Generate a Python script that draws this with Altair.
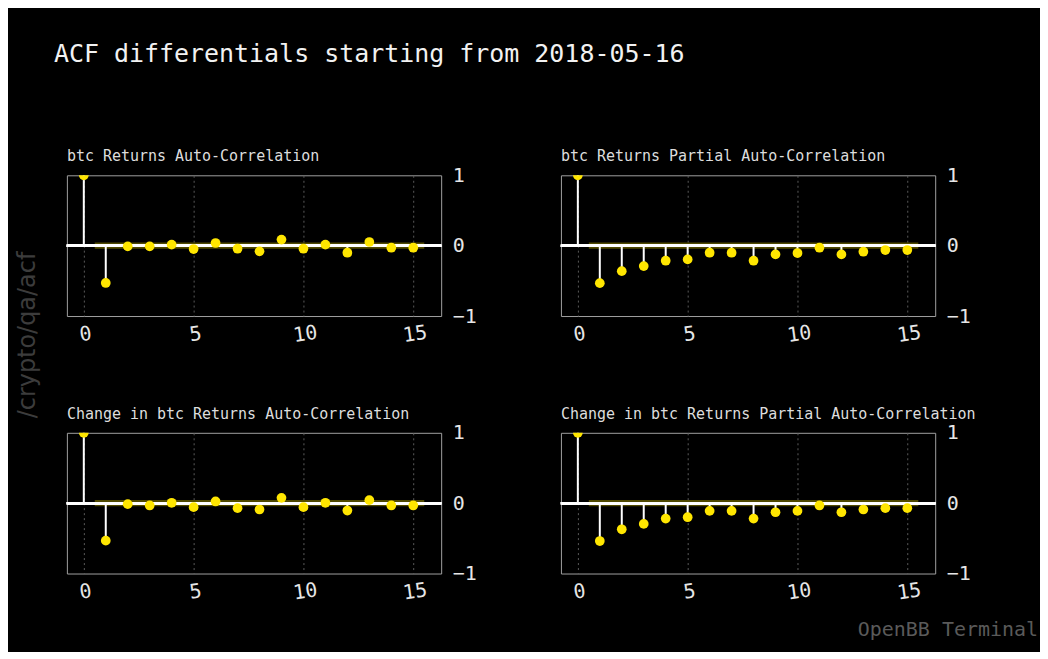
import altair as alt
import pandas as pd

# ---- data ----
lags = list(range(16))
acf_returns = [1.0, -0.53, -0.01, -0.01, 0.014, -0.048, 0.038, -0.043, -0.081, 0.086,
               -0.043, 0.014, -0.10, 0.052, -0.029, -0.029]
pacf_returns = [1.0, -0.533, -0.362, -0.29, -0.214, -0.195, -0.10, -0.10, -0.214, -0.124,
                -0.105, -0.029, -0.124, -0.086, -0.062, -0.062]
acf_change = [1.0, -0.533, -0.014, -0.033, 0.005, -0.057, 0.024, -0.071, -0.09, 0.076,
              -0.057, 0.005, -0.105, 0.043, -0.033, -0.033]
pacf_change = [1.0, -0.538, -0.371, -0.295, -0.219, -0.2, -0.11, -0.11, -0.219, -0.129,
               -0.11, -0.033, -0.129, -0.09, -0.071, -0.071]
conf_half = 0.045
band_start, band_end = 0.5, 15.5

panel_titles = [
    "btc Returns Auto-Correlation",
    "btc Returns Partial Auto-Correlation",
    "Change in btc Returns Auto-Correlation",
    "Change in btc Returns Partial Auto-Correlation",
]
main_title = "ACF differentials starting from 2018-05-16"
watermark_left = "/crypto/qa/acf"
watermark_right = "OpenBB Terminal"
x_ticks = [0, 5, 10, 15]
y_ticks = [-1, 0, 1]

MONO = "DejaVu Sans Mono"
W, H = 375, 141

xscale = alt.Scale(domain=[-0.77, 16.27], nice=False, zero=False)
yscale = alt.Scale(domain=[-1, 1], nice=False)
xaxis = alt.Axis(values=x_ticks, title=None, grid=True, gridColor="#5a5a5a",
                 gridDash=[2, 3], gridWidth=1, domain=False, ticks=False,
                 labelFont=MONO, labelFontSize=20, labelColor="#e6e6e6",
                 labelAngle=352, labelAlign="center", labelBaseline="top",
                 labelPadding=8)
yaxis = alt.Axis(values=y_ticks, title=None, orient="right", grid=False,
                 domain=False, ticks=False, labelFont=MONO, labelFontSize=20,
                 labelColor="#e6e6e6", labelPadding=11, labelBaseline="middle",
                 labelOverlap=False,
                 labelExpr="datum.value == 0 ? '0' : format(datum.value, 'd')")


def text_layer(text, **kw):
    enc = {k: kw.pop(k) for k in ("x", "y")}
    return alt.Chart(pd.DataFrame({"t": [text]})).mark_text(**kw).encode(
        x=alt.value(enc["x"]), y=alt.value(enc["y"]), text="t:N")


def panel(values, title, extras=()):
    df = pd.DataFrame({"lag": lags, "value": values})
    band_df = pd.DataFrame({"x1": [band_start], "x2": [band_end],
                            "lo": [-conf_half], "hi": [conf_half]})
    band = alt.Chart(band_df).mark_rect(color="#504a00").encode(
        x=alt.X("x1:Q", scale=xscale, axis=xaxis),
        x2="x2:Q",
        y=alt.Y("lo:Q", scale=yscale, axis=yaxis),
        y2="hi:Q",
    )
    zero = alt.Chart(df).mark_rule(color="white", strokeWidth=2.5).encode(
        y=alt.datum(0, scale=yscale)
    )
    stems = alt.Chart(df).mark_rule(color="white", strokeWidth=2).encode(
        x=alt.X("lag:Q", scale=xscale),
        y=alt.Y("value:Q", scale=yscale),
        y2=alt.datum(0),
    )
    dots = alt.Chart(df).mark_point(filled=True, color="#ffe600", opacity=1,
                                    size=95, clip=True).encode(
        x=alt.X("lag:Q", scale=xscale),
        y=alt.Y("value:Q", scale=yscale),
    )
    ttl = text_layer(title, x=0, y=-19, font=MONO, fontSize=15, color="#dddddd",
                     align="left", baseline="middle")
    layers = [band, zero, stems, dots, ttl] + list(extras)
    return alt.layer(*layers).properties(width=W, height=H)


title_mark = text_layer(main_title, x=-13, y=-122, font=MONO, fontSize=25,
                        color="#f2f2f2", align="left", baseline="middle")
wm_left = text_layer(watermark_left, x=-39, y=160, font="DejaVu Sans", fontSize=24,
                     color="#3c3c3c", angle=270, align="center", baseline="middle")
wm_right = text_layer(watermark_right, x=478, y=198, font=MONO, fontSize=20,
                      color="#5a5a5a", align="right", baseline="middle")

p1 = panel(acf_returns, panel_titles[0], [title_mark, wm_left])
p2 = panel(pacf_returns, panel_titles[1])
p3 = panel(acf_change, panel_titles[2])
p4 = panel(pacf_change, panel_titles[3], [wm_right])

chart = alt.concat(p1, p2, p3, p4, columns=2).properties(
    spacing={"row": 117, "column": 120},
    bounds="flush",
    padding={"left": 7, "top": 32, "right": 1, "bottom": 10},
    background="black",
).configure_view(stroke="#a0a0a0", strokeWidth=1)

chart.save("out.html", embed_options={"renderer": "svg", "actions": False})
